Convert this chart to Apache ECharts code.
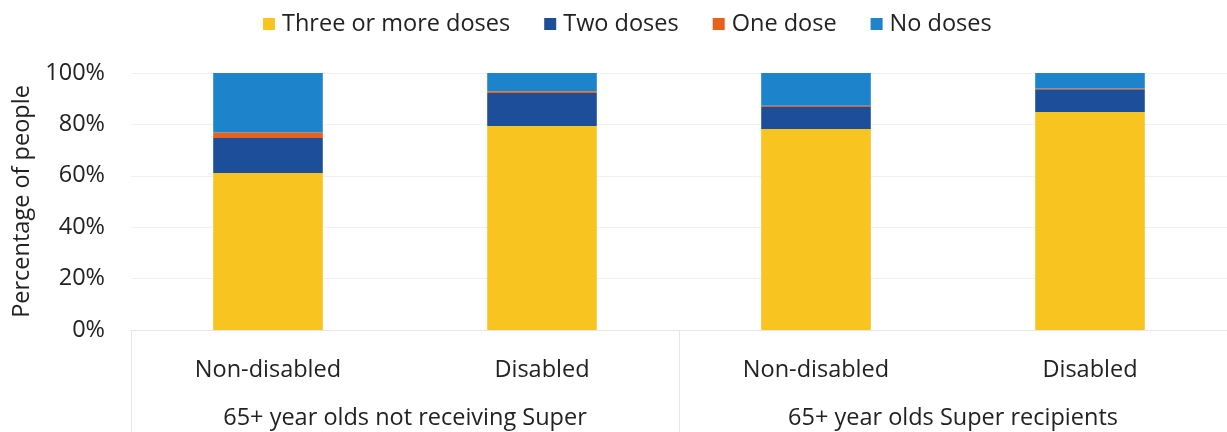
<!DOCTYPE html>
<html>
<head>
<meta charset="utf-8">
<script src="https://cdn.jsdelivr.net/npm/echarts@6/dist/echarts.min.js"></script>
<style>
  html, body { margin: 0; padding: 0; background: #ffffff; }
  #chart { width: 1227px; height: 432px; }
</style>
</head>
<body>
<div id="chart"></div>
<script>
// Vaccination doses received, by disability status and Super receipt
const categories = ['Non-disabled', 'Disabled', 'Non-disabled', 'Disabled'];
const groups = ['65+ year olds not receiving Super', '65+ year olds Super recipients'];
const threeOrMore = [61.1, 79.4, 78.2, 84.8];
const twoDoses = [13.6, 12.8, 8.6, 8.9];
const oneDose = [2.1, 0.7, 0.5, 0.4];
const noDoses = [23.2, 7.1, 12.7, 5.9];
const yTicks = [0, 20, 40, 60, 80, 100];

const FONT = '"Open Sans", "Noto Sans", sans-serif';
const TEXT = '#222222';
const FS = 23.5;

const mk = (name, data, color) => ({
  name, type: 'bar', stack: 'all', data,
  barWidth: '40%',
  itemStyle: { color },
  xAxisIndex: 0, yAxisIndex: 0
});

const chart = echarts.init(document.getElementById('chart'), null, { renderer: 'canvas' });
chart.setOption({
  animation: false,
  textStyle: { fontFamily: FONT },
  legend: {
    top: 7, left: 258,
    itemWidth: 12, itemHeight: 12, itemGap: 34,
    icon: 'rect',
    textStyle: { fontSize: FS, color: TEXT, fontFamily: FONT, padding: [0, 0, 0, 2] },
    data: ['Three or more doses', 'Two doses', 'One dose', 'No doses']
  },
  grid: { left: 131, right: 0, top: 73, bottom: 102, containLabel: false },
  xAxis: [
    {
      type: 'category', data: categories, position: 'bottom',
      axisLine: { show: false }, axisTick: { show: false },
      axisLabel: { fontSize: FS, color: TEXT, margin: 28, fontFamily: FONT }
    },
    {
      type: 'category', data: groups, position: 'bottom',
      axisLine: { show: true, lineStyle: { color: '#e6e6e6', width: 1 } },
      axisTick: { show: true, length: 102, interval: 0, lineStyle: { color: '#e6e6e6', width: 1 } },
      axisLabel: { fontSize: FS, color: TEXT, margin: 76, interval: 0, fontFamily: FONT }
    }
  ],
  yAxis: {
    type: 'value', min: 0, max: 100, interval: 20,
    name: 'Percentage of people', nameLocation: 'middle', nameGap: 95,
    nameTextStyle: { fontSize: FS, color: TEXT, fontFamily: FONT },
    axisLine: { show: false }, axisTick: { show: false },
    axisLabel: {
      fontSize: FS, color: TEXT, margin: 26, fontFamily: FONT,
      formatter: v => (yTicks.includes(v) ? v + '%' : '')
    },
    splitLine: { lineStyle: { color: '#f1f1f1', width: 1 } }
  },
  series: [
    mk('Three or more doses', threeOrMore, '#F8C420'),
    mk('Two doses', twoDoses, '#1C4E9A'),
    mk('One dose', oneDose, '#E8601A'),
    mk('No doses', noDoses, '#1D84CB')
  ]
});
</script>
</body>
</html>
